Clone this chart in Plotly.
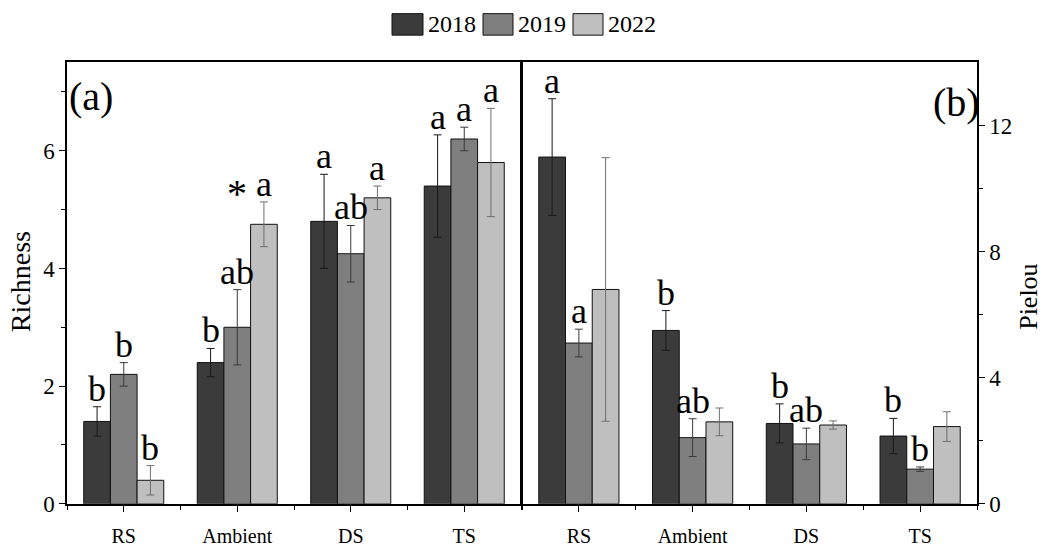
import plotly.graph_objects as go

# Treatments and sampling years
categories = ["RS", "Ambient", "DS", "TS"]
years = ["2018", "2019", "2022"]
colors = ["#3b3b3b", "#7f7f7f", "#bfbfbf"]
err_colors = ["#1a1a1a", "#3a3a3a", "#6e6e6e"]

# (a) Richness: means and standard errors
richness = {
    "2018": [1.4, 2.4, 4.8, 5.4],
    "2019": [2.2, 3.0, 4.25, 6.2],
    "2022": [0.4, 4.75, 5.2, 5.8],
}
richness_err = {
    "2018": [0.25, 0.24, 0.8, 0.87],
    "2019": [0.2, 0.64, 0.48, 0.2],
    "2022": [0.25, 0.38, 0.2, 0.92],
}
richness_letters = {
    "2018": ["b", "b", "a", "a"],
    "2019": ["b", "ab", "ab", "a"],
    "2022": ["b", "a", "a", "a"],
}

# (b) Pielou evenness: means and standard errors
pielou = {
    "2018": [11.0, 5.5, 2.55, 2.15],
    "2019": [5.1, 2.1, 1.9, 1.1],
    "2022": [6.8, 2.6, 2.5, 2.45],
}
pielou_err = {
    "2018": [1.85, 0.63, 0.62, 0.56],
    "2019": [0.44, 0.6, 0.5, 0.07],
    "2022": [4.18, 0.44, 0.13, 0.47],
}
pielou_letters = {
    "2018": ["a", "b", "b", "b"],
    "2019": ["a", "ab", "ab", "b"],
    "2022": ["", "", "", ""],
}

FONT = "Liberation Serif, Times New Roman, serif"
W, H = 1044, 551
BAR_W = 0.235
xpos = list(range(len(categories)))

fig = go.Figure()

for k, yr in enumerate(years):
    fig.add_trace(go.Bar(
        x=xpos, y=richness[yr], name=yr, xaxis="x", yaxis="y",
        marker=dict(color=colors[k], line=dict(color="#111", width=1)),
        error_y=dict(type="data", array=richness_err[yr], color=err_colors[k],
                     thickness=1, width=4),
        showlegend=False,
    ))
    fig.add_trace(go.Bar(
        x=xpos, y=pielou[yr], name=yr, xaxis="x2", yaxis="y2",
        marker=dict(color=colors[k], line=dict(color="#111", width=1)),
        error_y=dict(type="data", array=pielou_err[yr], color=err_colors[k],
                     thickness=1, width=4),
        showlegend=False,
    ))

annotations = []
LETTER_SIZE = 36


def add_letters(vals, errs, letters, xref, yref):
    for k, yr in enumerate(years):
        for i, lab in enumerate(letters[yr]):
            if not lab:
                continue
            annotations.append(dict(
                x=i + (k - 1) * BAR_W, y=vals[yr][i] + errs[yr][i],
                xref=xref, yref=yref, text=lab, showarrow=False,
                xanchor="center", yanchor="bottom", yshift=-4,
                font=dict(family=FONT, size=LETTER_SIZE, color="black"),
            ))


add_letters(richness, richness_err, richness_letters, "x", "y")
add_letters(pielou, pielou_err, pielou_letters, "x2", "y2")

# asterisk beside the Ambient 2022 richness label
annotations.append(dict(
    x=1 + 0 * BAR_W, y=richness["2022"][1] + richness_err["2022"][1],
    xref="x", yref="y", text="*", showarrow=False,
    xanchor="center", yanchor="bottom", yshift=-16,
    font=dict(family=FONT, size=40, color="black"),
))


def paper_text(px, py, text, size, angle=0, xanchor="center"):
    annotations.append(dict(
        x=px / W, y=1 - py / H, xref="paper", yref="paper", text=text,
        textangle=angle, showarrow=False, xanchor=xanchor, yanchor="middle",
        font=dict(family=FONT, size=size, color="black"),
    ))


# panel tags
paper_text(91, 99, "(a)", 40)
paper_text(956, 105, "(b)", 40)

# axis titles
paper_text(20, 289, "Richness", 28, angle=-90)
paper_text(1029, 304, "Pielou", 26, angle=-90)

# legend drawn as boxes plus labels across the top
shapes = []
leg_boxes = [(392, 423), (483, 513), (573, 603)]
for k, yr in enumerate(years):
    x0, x1 = leg_boxes[k]
    shapes.append(dict(type="rect", xref="paper", yref="paper",
                       x0=x0 / W, x1=x1 / W, y0=1 - 36 / H, y1=1 - 14 / H,
                       fillcolor=colors[k], line=dict(color="#111", width=1)))
    paper_text(x1 + 3, 25, yr, 24, xanchor="left")

axis_common = dict(showline=True, linecolor="black", linewidth=1.5, mirror=True,
                   ticks="outside", ticklen=6, tickcolor="black", tickwidth=1.2,
                   showgrid=False, zeroline=False)

left_dom = [67 / W, 521 / W]
right_dom = [522 / W, 977 / W]
y_dom = [35 / H, 1 - 64 / H]

x_common = dict(range=[-0.5, 3.5], tickvals=xpos, ticktext=categories,
                tickfont=dict(family=FONT, size=20), ticklabelstandoff=7,
                minor=dict(tickvals=[-0.5, 0.5, 1.5, 2.5, 3.5], ticklen=4,
                           ticks="outside", tickcolor="black"))

fig.update_layout(
    width=W, height=H,
    margin=dict(l=0, r=0, t=0, b=0),
    paper_bgcolor="white", plot_bgcolor="white",
    barmode="group", bargap=0.295, bargroupgap=0,
    font=dict(family=FONT, color="black"),
    xaxis=dict(domain=left_dom, anchor="y", **x_common, **axis_common),
    yaxis=dict(domain=y_dom, anchor="x", range=[0, 7.5],
               tickvals=[0, 2, 4, 6], tickfont=dict(family=FONT, size=23),
               minor=dict(tickvals=[1, 3, 5, 7], ticklen=4, ticks="outside",
                          tickcolor="black"),
               **axis_common),
    xaxis2=dict(domain=right_dom, anchor="y2", **x_common, **axis_common),
    yaxis2=dict(domain=y_dom, anchor="x2", side="right", range=[0, 14],
                tickvals=[0, 4, 8, 12], tickfont=dict(family=FONT, size=23),
                minor=dict(tickvals=[2, 6, 10], ticklen=4, ticks="outside",
                           tickcolor="black"),
                **axis_common),
    annotations=annotations,
    shapes=shapes,
)

fig.write_html("out.html")
